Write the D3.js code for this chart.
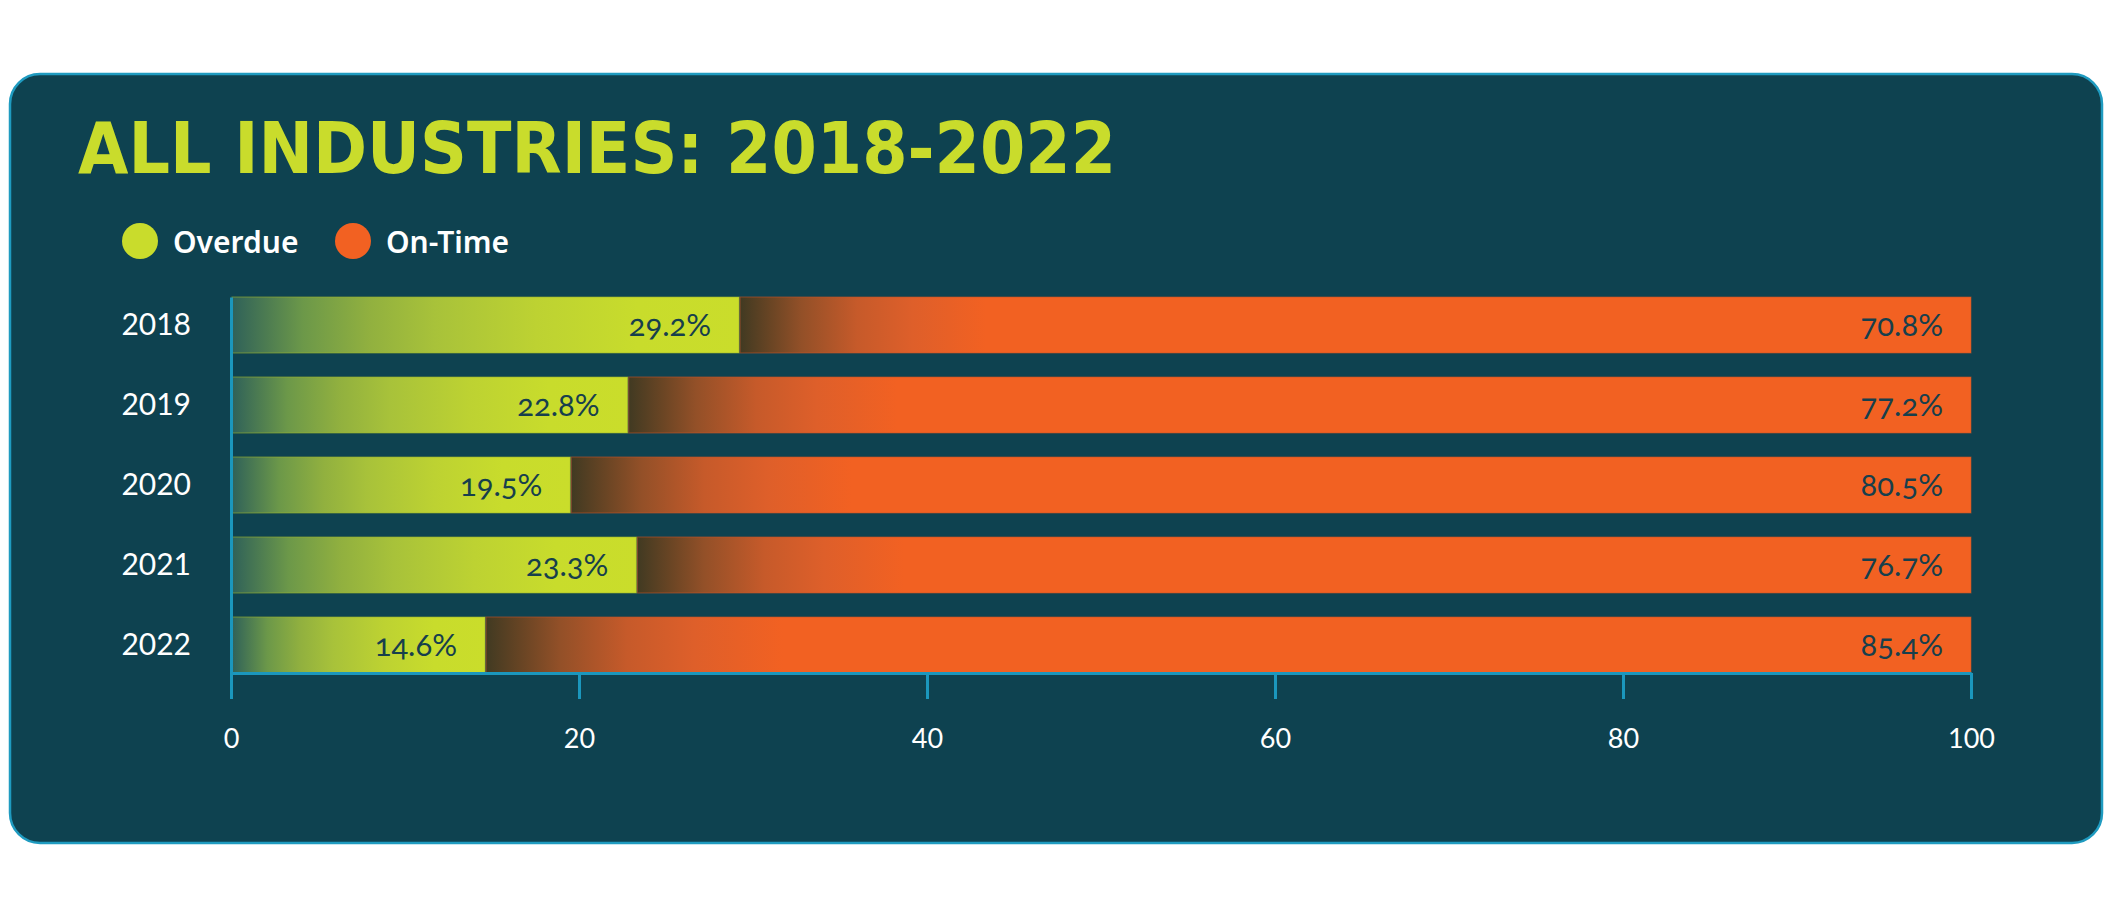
<!DOCTYPE html>
<html>
<head>
<meta charset="utf-8">
<script src="https://cdn.jsdelivr.net/npm/d3@7"></script>
<style>
  html, body { margin: 0; padding: 0; background: #ffffff; }
  svg { display: block; }
</style>
</head>
<body>
<div id="chart"></div>
<script>
// ---- data ----
const titleText = "ALL INDUSTRIES: 2018-2022";
const years = ["2018", "2019", "2020", "2021", "2022"];
const overdue = [29.2, 22.8, 19.5, 23.3, 14.6];
const onTime = [70.8, 77.2, 80.5, 76.7, 85.4];
const xTicks = [0, 20, 40, 60, 80, 100];
const seriesNames = ["Overdue", "On-Time"];
const seriesColors = ["#c9dc2c", "#f26122"];

// ---- layout ----
const W = 2114, H = 907;
const svg = d3.select("#chart").append("svg").attr("width", W).attr("height", H);

const defs = svg.append("defs");
const gOver = defs.append("linearGradient").attr("id", "gOver").attr("x1", 0).attr("x2", 1).attr("y1", 0).attr("y2", 0);
[[0, "#2f6159"], [0.14, "#6c9849"], [0.27, "#91b03f"], [0.4, "#a8c23a"], [0.6, "#bdd232"], [0.8, "#c8dc2c"], [1, "#cadd2b"]]
  .forEach(([o, c]) => gOver.append("stop").attr("offset", o).attr("stop-color", c));
const gOn = defs.append("linearGradient").attr("id", "gOn").attr("x1", 0).attr("x2", 1).attr("y1", 0).attr("y2", 0);
[[0, "#413a22"], [0.025, "#6a4524"], [0.05, "#935028"], [0.095, "#c65a2a"], [0.14, "#de5f2a"], [0.2, "#f26122"], [1, "#f26122"]]
  .forEach(([o, c]) => gOn.append("stop").attr("offset", o).attr("stop-color", c));

// panel
svg.append("rect")
  .attr("x", 10).attr("y", 74).attr("width", 2092).attr("height", 769)
  .attr("rx", 30).attr("ry", 30)
  .attr("fill", "#0e4250").attr("stroke", "#1f9bc0").attr("stroke-width", 2.5);

// title
svg.append("text")
  .attr("x", 78).attr("y", 173)
  .attr("textLength", 1038).attr("lengthAdjust", "spacingAndGlyphs")
  .style("font-family", "'Liberation Sans Narrow','DejaVu Sans Condensed','Roboto',sans-serif")
  .style("font-weight", 900).style("font-size", "71px")
  .attr("fill", "#c9dc2c")
  .text(titleText);

// legend
const legendX = [140, 353];
const lg = svg.append("g").selectAll("g").data(seriesNames).join("g")
  .attr("transform", (d, i) => `translate(${legendX[i]},241)`);
lg.append("circle").attr("r", 18).attr("fill", (d, i) => seriesColors[i]);
lg.append("text").attr("x", 33).attr("y", 12)
  .style("font-family", "'Noto Sans','Open Sans',sans-serif")
  .style("font-weight", 600).style("font-size", "30px")
  .attr("fill", "#ffffff").text(d => d);

// scales
const x = d3.scaleLinear().domain([0, 100]).range([231, 1971]);
const y = d3.scaleBand().domain(years).range([297, 673]).paddingInner(0.3).paddingOuter(0);

const rows = years.map((yr, i) => ({ year: yr, overdue: overdue[i], onTime: onTime[i] }));

// bars
const barG = svg.append("g");
const segs = [];
rows.forEach(r => {
  segs.push({ year: r.year, x0: 0, x1: r.overdue, v: r.overdue, grad: "url(#gOver)", stroke: "#9fb52e" });
  segs.push({ year: r.year, x0: r.overdue, x1: r.overdue + r.onTime, v: r.onTime, grad: "url(#gOn)", stroke: "#c4542a" });
});
barG.selectAll("rect").data(segs).join("rect")
  .attr("x", d => x(d.x0) + 1)
  .attr("y", d => y(d.year))
  .attr("width", d => x(d.x1) - x(d.x0) - 1)
  .attr("height", y.bandwidth())
  .attr("fill", d => d.grad)
  .attr("stroke", d => d.stroke).attr("stroke-width", 1).attr("stroke-opacity", 0.6);

barG.selectAll("text").data(segs).join("text")
  .attr("x", d => x(d.x1) - 28)
  .attr("y", d => y(d.year) + y.bandwidth() / 2)
  .attr("dy", "0.36em")
  .attr("text-anchor", "end")
  .style("font-family", "'Lato','Noto Sans',sans-serif")
  .style("font-size", "31px")
  .style("font-feature-settings", "'onum' 1")
  .attr("fill", "#173f4c")
  .text(d => d.v.toFixed(1) + "%");

// y axis
const yAxis = svg.append("g").attr("transform", `translate(${x(0)},0)`)
  .call(d3.axisLeft(y).tickSize(0).tickPadding(40));
yAxis.select(".domain").attr("stroke", "#1b97bd").attr("stroke-width", 3);
yAxis.selectAll("text")
  .style("font-family", "'Lato','Noto Sans',sans-serif")
  .style("font-size", "30px").attr("fill", "#ffffff");

// x axis
const xAxis = svg.append("g").attr("transform", `translate(0,${y.range()[1]})`)
  .call(d3.axisBottom(x).tickValues(xTicks).tickSizeInner(26).tickSizeOuter(0).tickPadding(30));
xAxis.select(".domain").attr("stroke", "#1b97bd").attr("stroke-width", 3);
xAxis.selectAll(".tick line").attr("stroke", "#1b97bd").attr("stroke-width", 3);
xAxis.selectAll("text")
  .style("font-family", "'Lato','Noto Sans',sans-serif")
  .style("font-size", "27px").attr("fill", "#ffffff");
</script>
</body>
</html>
